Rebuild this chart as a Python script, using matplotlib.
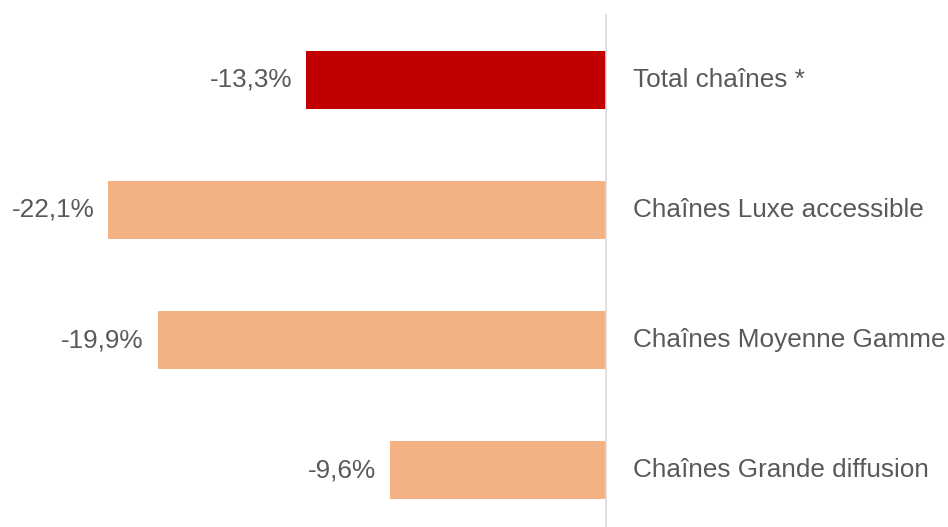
import matplotlib.pyplot as plt
import numpy as np

# data
categories = ['Total chaînes *', 'Chaînes Luxe accessible',
              'Chaînes Moyenne Gamme', 'Chaînes Grande diffusion']
values = [-13.3, -22.1, -19.9, -9.6]
colors = ['#C00000', '#F4B183', '#F4B183', '#F4B183']

plt.rcParams['font.family'] = ['Liberation Sans', 'DejaVu Sans']
text_col = '#595959'

fig = plt.figure(figsize=(9.48, 5.27), dpi=100)
ax = fig.add_axes([0, 0, 1, 1])

ypos = np.arange(len(values))
ax.barh(ypos, values, height=0.45, color=colors)

# zero line
ax.plot([0, 0], [-0.5, 3.5], color='#d9d9d9', lw=1.2)

for y, v, name in zip(ypos, values, categories):
    lab = ('%.1f%%' % v).replace('.', ',')
    ax.annotate(lab, (v, y), xytext=(-14, 0), textcoords='offset pixels',
                ha='right', va='center', fontsize=18.8, color=text_col)
    ax.annotate(name, (0, y), xytext=(27, 0), textcoords='offset pixels',
                ha='left', va='center', fontsize=18.8, color=text_col)

ax.set_xlim(-26.9, 15.18)
ax.set_ylim(3.438, -0.615)
ax.axis('off')

fig.savefig('out.png', dpi=100)
